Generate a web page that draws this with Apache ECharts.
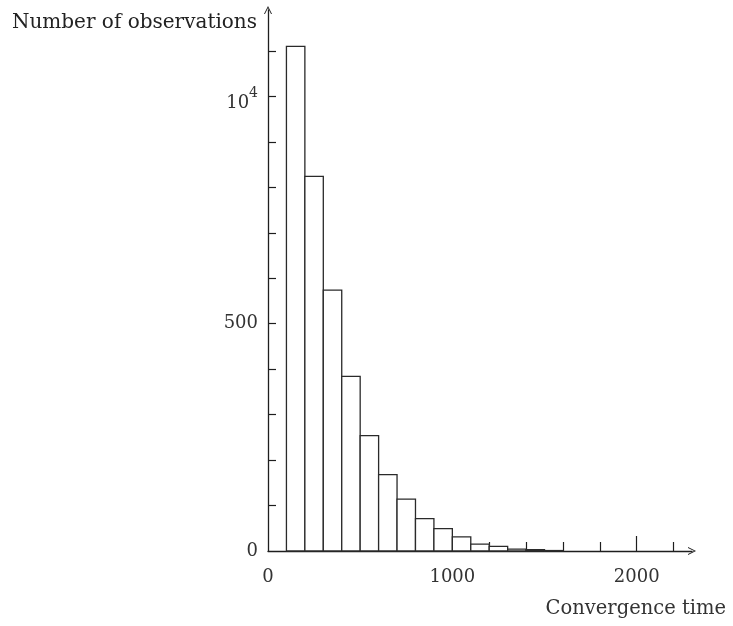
<!DOCTYPE html>
<html>
<head>
<meta charset="utf-8">
<script src="https://cdn.jsdelivr.net/npm/echarts@6.0.0/dist/echarts.min.js"></script>
<style>
	html, body { margin: 0; padding: 0; background: #fff; }
	#chart { width: 733px; height: 626px; }
</style>
</head>
<body>
<div id="chart"></div>
<script>
	// histogram bins (lower / upper edge) and counts
	var binLow = [100, 200, 300, 400, 500, 600, 700, 800, 900, 1000, 1100, 1200, 1300, 1400, 1500];
	var binHigh = [200, 300, 400, 500, 600, 700, 800, 900, 1000, 1100, 1200, 1300, 1400, 1500, 1600];
	var counts = [1110, 824, 574, 384, 254, 168, 114, 71, 49, 31, 15, 10, 4, 3, 1];

	var xTicks = [200, 400, 600, 800, 1000, 1200, 1400, 1600, 1800, 2200];
	var xMajorTicks = [2000];
	var xLabels = [0, 1000, 2000];
	var yTicks = [100, 200, 300, 400, 500, 600, 700, 800, 900, 1000, 1100];
	var yLabels = [0, 500, 1000];

	var font = 'DejaVu Serif';
	var ink = '#1e1e1e';
	var arrow = 'path://M0,10 L5,0 L10,10 L8.8,10 L5,2.4 L1.2,10 Z';

	var data = binLow.map(function (lo, i) {
		return [lo, binHigh[i], counts[i]];
	});

	var myChart = echarts.init(document.getElementById('chart'));
	var option = {
		animation: false,
		grid: {
			left: 268,
			right: 41,
			top: 10,
			bottom: 75
		},
		xAxis: [{
			type: 'value',
			min: 0,
			max: 2300,
			splitLine: { show: false },
			axisLine: {
				lineStyle: { color: ink, width: 1.3 },
				symbol: ['none', arrow],
				symbolSize: [8, 10]
			},
			axisTick: {
				inside: true,
				length: 9,
				customValues: xTicks,
				lineStyle: { color: ink, width: 1.2 }
			},
			axisLabel: {
				customValues: xLabels,
				margin: 17,
				color: '#333',
				fontFamily: font,
				fontSize: 18,
				formatter: function (v) {
					return String(v);
				}
			},
			name: 'Convergence time',
			nameLocation: 'end',
			nameGap: 34,
			nameTextStyle: {
				fontFamily: font,
				fontSize: 19.5,
				color: '#333',
				align: 'right',
				verticalAlign: 'top',
				padding: [48, 0, 0, 0]
			}
		}, {
			type: 'value',
			min: 0,
			max: 2300,
			position: 'bottom',
			splitLine: { show: false },
			axisLine: { show: false },
			axisLabel: { show: false },
			axisTick: {
				inside: true,
				length: 15,
				customValues: xMajorTicks,
				lineStyle: { color: ink, width: 1.2 }
			}
		}],
		yAxis: {
			type: 'value',
			min: 0,
			max: 1190,
			splitLine: { show: false },
			axisLine: {
				show: true,
				lineStyle: { color: ink, width: 1.3 },
				symbol: ['none', arrow],
				symbolSize: [8, 10]
			},
			axisTick: {
				show: true,
				inside: true,
				length: 8,
				customValues: yTicks,
				lineStyle: { color: ink, width: 1.2 }
			},
			axisLabel: {
				customValues: yLabels,
				margin: 10,
				color: '#333',
				fontFamily: font,
				fontSize: 18,
				formatter: function (v) {
					return v === 1000 ? '{base|10}{sup|4}' : String(v);
				},
				rich: {
					base: { fontFamily: font, fontSize: 18, color: '#333', padding: [14, 0, 0, 0] },
					sup: { fontFamily: font, fontSize: 14, color: '#333', padding: [0, 0, 6, 0] }
				}
			},
			name: 'Number of observations',
			nameLocation: 'end',
			nameGap: -13,
			nameTextStyle: {
				fontFamily: font,
				fontSize: 20,
				color: '#222',
				align: 'right',
				verticalAlign: 'middle',
				padding: [0, 11, 0, 0]
			}
		},
		series: [{
			type: 'custom',
			xAxisIndex: 0,
			encode: { x: [0, 1], y: 2 },
			renderItem: function (params, api) {
				var p0 = api.coord([api.value(0), 0]);
				var p1 = api.coord([api.value(1), api.value(2)]);
				return {
					type: 'rect',
					shape: {
						x: p0[0],
						y: p1[1],
						width: p1[0] - p0[0],
						height: p0[1] - p1[1]
					},
					style: {
						fill: '#fff',
						stroke: '#2a2a2a',
						lineWidth: 1.3
					}
				};
			},
			data: data
		}]
	};
	myChart.setOption(option);
</script>
</body>
</html>
